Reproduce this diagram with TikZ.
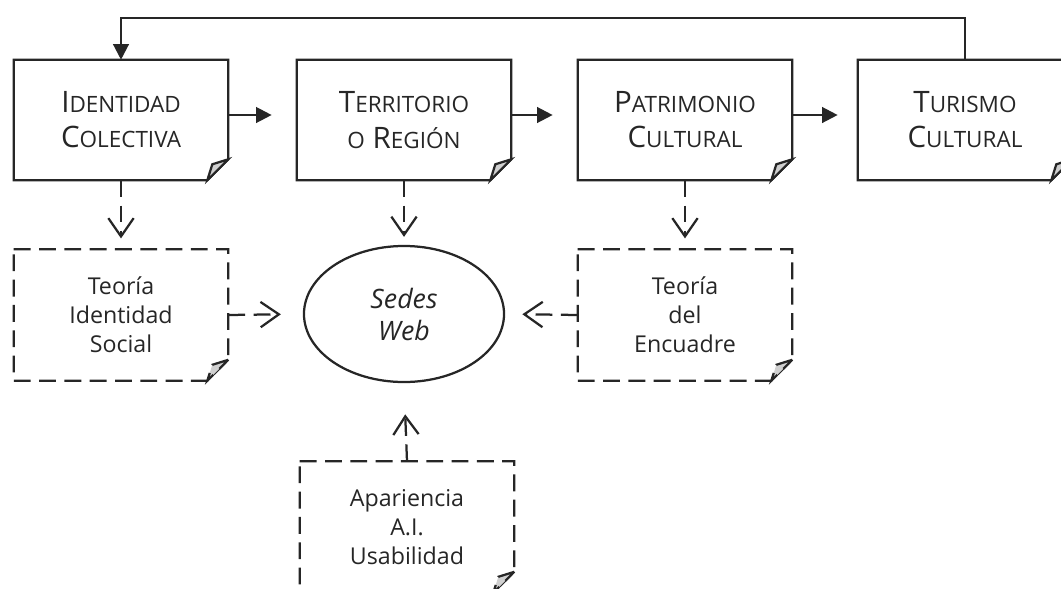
\documentclass[tikz,border=0pt]{standalone}
\usepackage{fontspec}
\setmainfont{Open Sans}
\usepackage{xcolor}
\usetikzlibrary{arrows.meta,shapes.geometric}
\definecolor{ink}{HTML}{262626}
\definecolor{foldgray}{HTML}{D0D0D0}
\newcommand\capsc[2]{{\fontsize{21}{25}\selectfont #1}{\fontsize{16}{25}\selectfont\MakeUppercase{#2}}}
\newcommand\dogear[2][]{%
  \draw[#1] (#2.north west) -- (#2.north east) -- ([yshift=0.525cm]#2.south east)
    -- ([xshift=-0.525cm]#2.south east) -- (#2.south west) -- cycle;
  \filldraw[#1,fill=foldgray] ([yshift=0.525cm]#2.south east) -- ([xshift=-0.4cm,yshift=0.4cm]#2.south east)
    -- ([xshift=-0.525cm]#2.south east) -- cycle;}
\tikzset{
  topbox/.style={minimum width=5.35cm,minimum height=3cm,inner sep=0pt,align=center,text=ink,
    font=\fontsize{21}{25}\selectfont},
  notebox/.style={minimum width=5.35cm,minimum height=3.275cm,inner sep=0pt,align=center,text=ink,
    font=\fontsize{16.5}{20.5}\selectfont},
  dash12/.style={dash pattern=on 12pt off 6pt},
  flow/.style={draw=ink,line width=1.6pt,-{Triangle[length=11pt,width=11pt]}},
  link/.style={draw=ink,line width=1.6pt,dash12,-{Straight Barb[length=13pt,width=18pt]}},
}
\begin{document}
\begin{tikzpicture}[x=0.025cm,y=-0.025cm,line join=miter]
    \useasboundingbox (0,0) rectangle (1061,588);
    \clip (0,0) rectangle (1061,588);
    \node[topbox] (ident) at (121,120) {\capsc{I}{dentidad}\\\capsc{C}{olectiva}};
    \node[topbox] (terr) at (404,120) {\capsc{T}{erritorio}\\{\fontsize{16}{25}\selectfont O} \capsc{R}{egión}};
    \node[topbox] (patr) at (685,120) {\capsc{P}{atrimonio}\\\capsc{C}{ultural}};
    \node[topbox] (tur) at (965,120) {\capsc{T}{urismo}\\\capsc{C}{ultural}};
    \node[notebox] (tis) at (121,315) {Teoría\\Identidad\\Social};
    \node[notebox] (enc) at (685,315) {Teoría\\del\\Encuadre};
    \node[notebox] (apa) at (407,527) {Apariencia\\A.I.\\Usabilidad};
    \node[ellipse,draw=ink,line width=1.6pt,minimum width=5cm,minimum height=3.4cm,inner sep=0pt,
      align=center,text=ink,font=\fontsize{19}{22.75}\selectfont\itshape] (web) at (404,314) {Sedes\\Web};
    \foreach \n in {ident,terr,patr,tur} {\dogear[ink,line width=1.6pt]{\n}}
    \foreach \n in {tis,enc,apa} {\dogear[ink,line width=1.6pt,dash12]{\n}}
    \coordinate (back) at (543,18);
    \draw[flow] ([yshift=0.125cm]ident.east) -- ([yshift=0.125cm,xshift=-0.625cm]terr.west);
    \draw[flow] ([yshift=0.125cm]terr.east) -- ([yshift=0.125cm,xshift=-0.625cm]patr.west);
    \draw[flow] ([yshift=0.125cm]patr.east) -- ([yshift=0.125cm,xshift=-0.5cm]tur.west);
    \draw[flow] (tur.north) |- (back) -| (ident.north);
    \draw[link,shorten >=0.27cm] (ident) -- (tis);
    \draw[link,shorten >=0.27cm] (patr) -- (enc);
    \draw[link,shorten >=0.2cm] (terr.south) -- (web.north);
    \draw[link,shorten >=0.55cm] (tis.east) -- (web.west);
    \draw[link,shorten >=0.43cm] (enc.west) -- (web.east);
    \draw[link,shorten >=0.78cm] (apa.north) -- (web.south);
\end{tikzpicture}
\end{document}
